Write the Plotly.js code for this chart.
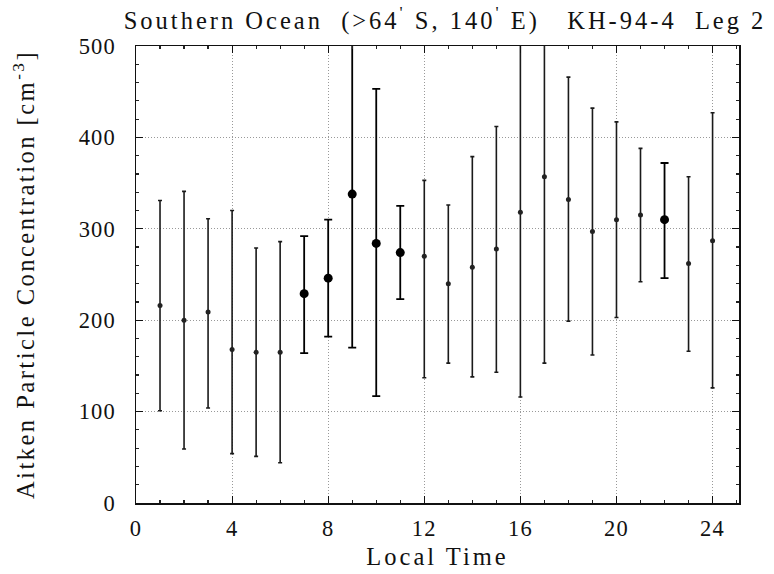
<!DOCTYPE html>
<html>
<head>
<meta charset="utf-8">
<script src="https://cdn.plot.ly/plotly-3.0.1.min.js"></script>
<style>
html,body{margin:0;padding:0;background:#fff;}
#chart{width:774px;height:574px;}
#chart .gtitle{letter-spacing:3.0px;}
#chart .xtitle{letter-spacing:3.0px;}
#chart .ytitle{letter-spacing:2.5px;}
#chart .xtick text,#chart .ytick text{letter-spacing:1.2px;}
</style>
</head>
<body>
<div id="chart"></div>
<script>
// Local time (hours) and Aitken particle concentrations (cm^-3)
const hoursOpen = [1, 2, 3, 4, 5, 6, 12, 13, 14, 15, 16, 17, 18, 19, 20, 21, 23, 24];
const meanOpen  = [216, 200, 209, 168, 165, 165, 270, 240, 258, 278, 318, 357, 332, 297, 310, 315, 262, 287];
const upperOpen = [331, 341, 311, 320, 279, 286, 353, 326, 379, 412, 560, 560, 466, 432, 417, 388, 357, 427];
const lowerOpen = [101, 59, 104, 54, 51, 44, 137, 153, 138, 143, 116, 153, 199, 162, 203, 242, 166, 126];

const hoursFilled = [7, 8, 9, 10, 11, 22];
const meanFilled  = [229, 246, 338, 284, 274, 310];
const upperFilled = [292, 310, 560, 453, 325, 372];
const lowerFilled = [164, 182, 170, 117, 223, 246];

const xTickVals = [0, 4, 8, 12, 16, 20, 24];
const yTickVals = [0, 100, 200, 300, 400, 500];

function plus(m, u) { return m.map((v, i) => u[i] - v); }
function minus(m, l) { return m.map((v, i) => v - l[i]); }

const traces = [
  {
    x: hoursOpen, y: meanOpen, type: 'scatter', mode: 'markers',
    marker: {symbol: 'circle', size: 5, color: '#222'},
    error_y: {type: 'data', symmetric: false, array: plus(meanOpen, upperOpen),
              arrayminus: minus(meanOpen, lowerOpen), color: '#1a1a1a', thickness: 1.6, width: 2},
    cliponaxis: true, showlegend: false
  },
  {
    x: hoursFilled, y: meanFilled, type: 'scatter', mode: 'markers',
    marker: {symbol: 'circle', size: 9, color: '#000'},
    error_y: {type: 'data', symmetric: false, array: plus(meanFilled, upperFilled),
              arrayminus: minus(meanFilled, lowerFilled), color: '#000', thickness: 1.8, width: 4},
    cliponaxis: true, showlegend: false
  }
];

const serif = 'Liberation Serif, Times New Roman, serif';
const nb = '\u00a0';
const layout = {
  width: 774, height: 574,
  paper_bgcolor: '#fff', plot_bgcolor: '#fff',
  margin: {l: 136, r: 35, t: 46, b: 71},
  font: {family: serif, color: '#111', size: 22},
  title: {
    text: 'Southern Ocean' + nb + nb + '(>64<sup>\'</sup> S, 140<sup>\'</sup> E)' + nb + nb + nb + 'KH-94-4' + nb + nb + 'Leg 2',
    font: {family: serif, size: 24.5, color: '#111'},
    x: 0.575, xanchor: 'center', y: 0.965, yanchor: 'middle'
  },
  xaxis: {
    range: [0, 25.1], tickvals: xTickVals, ticktext: xTickVals.map(String),
    ticks: 'inside', ticklen: 7, tickwidth: 1.2, tickcolor: '#111',
    minor: {dtick: 1, tick0: 0, ticks: 'inside', ticklen: 3, tickcolor: '#222', showgrid: false},
    showline: true, linecolor: '#111', linewidth: 1.5, mirror: 'allticks',
    showgrid: true, gridcolor: '#999', griddash: '1px,2px', gridwidth: 1,
    zeroline: false, ticklabelstandoff: 4,
    tickfont: {family: serif, size: 22.5, color: '#111'},
    title: {text: 'Local Time', font: {family: serif, size: 24.5, color: '#111'}, standoff: 8}
  },
  yaxis: {
    range: [0, 500], tickvals: yTickVals, ticktext: yTickVals.map(String),
    ticks: 'inside', ticklen: 7, tickwidth: 1.2, tickcolor: '#111',
    minor: {dtick: 20, tick0: 0, ticks: 'inside', ticklen: 3, tickcolor: '#222', showgrid: false},
    showline: true, linecolor: '#111', linewidth: 1.5, mirror: 'allticks',
    showgrid: true, gridcolor: '#999', griddash: '1px,2px', gridwidth: 1,
    zeroline: false, ticklabelstandoff: 14,
    tickfont: {family: serif, size: 22.5, color: '#111'},
    title: {text: 'Aitken Particle Concentration [cm<sup>-3</sup>]', font: {family: serif, size: 24.5, color: '#111'}, standoff: 40}
  }
};

Plotly.newPlot('chart', traces, layout, {staticPlot: true, displayModeBar: false});
</script>
</body>
</html>
